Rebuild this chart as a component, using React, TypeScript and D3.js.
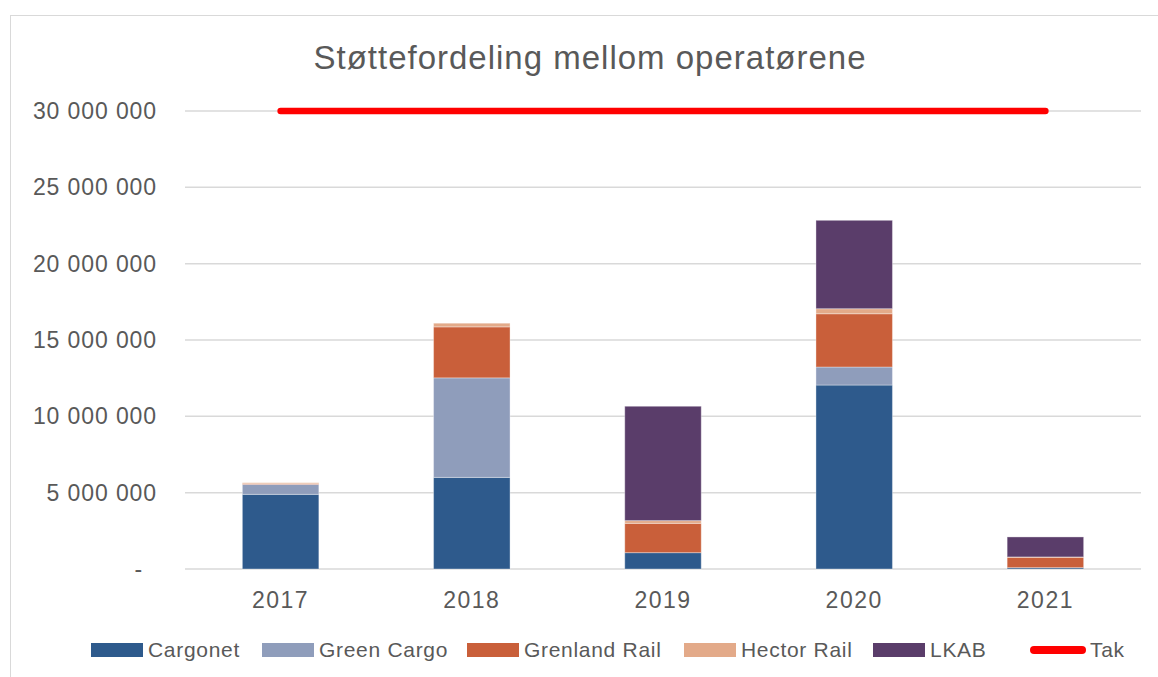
import { useEffect, useRef } from 'react'
import * as d3 from 'd3'

// Chart data (values in NOK)
const years = ['2017', '2018', '2019', '2020', '2021']
const cargonet = [4890000, 6000000, 1070000, 12050000, 90000]
const greenCargo = [650000, 6520000, 0, 1180000, 0]
const grenlandRail = [40000, 3340000, 1920000, 3490000, 680000]
const hectorRail = [70000, 240000, 180000, 330000, 20000]
const lkab = [0, 0, 7490000, 5790000, 1310000]
const tak = [30000000, 30000000, 30000000, 30000000, 30000000]
const yTicks = [0, 5000000, 10000000, 15000000, 20000000, 25000000, 30000000]

const seriesNames = ['Cargonet', 'Green Cargo', 'Grenland Rail', 'Hector Rail', 'LKAB']
const seriesValues = [cargonet, greenCargo, grenlandRail, hectorRail, lkab]
const colors = ['#2E5A8C', '#8F9DBB', '#C95F3A', '#E3AA89', '#5A3D6A']

function App() {
  const svgRef = useRef<SVGSVGElement | null>(null)

  useEffect(() => {
    if (!svgRef.current) return
    const svg = d3.select(svgRef.current)
    svg.selectAll('*').remove()

    const width = 1158
    const height = 677
    const margin = { top: 111, right: 17, bottom: 108, left: 185 }
    const chartWidth = width - margin.left - margin.right
    const chartHeight = height - margin.top - margin.bottom
    const font = '"Liberation Sans", Arial, sans-serif'

    svg.attr('width', width).attr('height', height)

    // Outer chart frame
    svg.append('rect')
      .attr('x', 10.5).attr('y', 15.5)
      .attr('width', width).attr('height', height)
      .attr('fill', '#fff')
      .attr('stroke', '#d9d9d9')

    // Title
    svg.append('text')
      .attr('x', 590).attr('y', 69)
      .attr('text-anchor', 'middle')
      .style('font-family', font)
      .style('font-size', '33px')
      .style('letter-spacing', '1px')
      .style('fill', '#595959')
      .text('Støttefordeling mellom operatørene')

    const g = svg.append('g').attr('transform', `translate(${margin.left},${margin.top})`)

    const x = d3.scaleBand().domain(years).range([0, chartWidth]).paddingInner(0.6).paddingOuter(0.3)
    const y = d3.scaleLinear().domain([0, 30000000]).range([chartHeight, 0])

    // Grid
    g.selectAll('.grid')
      .data(yTicks)
      .enter().append('line')
      .attr('x1', 0).attr('x2', chartWidth)
      .attr('y1', d => y(d)).attr('y2', d => y(d))
      .attr('stroke', '#d9d9d9')
      .attr('stroke-width', 1.5)

    // Y labels
    const fmt = (v: number) => v === 0 ? '-' : d3.format(',')(v).replace(/,/g, ' ')
    g.selectAll('.ylab')
      .data(yTicks)
      .enter().append('text')
      .attr('x', d => d === 0 ? -42 : -28)
      .attr('y', d => y(d))
      .attr('dy', '0.35em')
      .attr('text-anchor', 'end')
      .style('font-family', font)
      .style('font-size', '23px')
      .style('letter-spacing', '0.9px')
      .style('fill', '#595959')
      .text(d => fmt(d))

    // X labels
    g.selectAll('.xlab')
      .data(years)
      .enter().append('text')
      .attr('x', d => x(d)! + x.bandwidth() / 2)
      .attr('y', chartHeight + 39)
      .attr('text-anchor', 'middle')
      .style('font-family', font)
      .style('font-size', '23px')
      .style('letter-spacing', '1.5px')
      .style('fill', '#595959')
      .text(d => d)

    // Stacked bars
    const rows = years.map((yr, i) => {
      const row: any = { year: yr }
      seriesNames.forEach((s, j) => { row[s] = seriesValues[j][i] })
      return row
    })
    const stacked = d3.stack().keys(seriesNames)(rows)

    stacked.forEach((layer, li) => {
      g.selectAll(`.bar-${li}`)
        .data(layer)
        .enter().append('rect')
        .attr('x', (d: any) => x(d.data.year)!)
        .attr('width', x.bandwidth())
        .attr('y', d => y(d[1]))
        .attr('height', d => Math.max(0, y(d[0]) - y(d[1])))
        .attr('fill', colors[li])
        .attr('stroke', '#ffffff')
        .attr('stroke-opacity', 0.35)
        .attr('stroke-width', 1)
    })

    // Tak line
    const line = d3.line<number>()
      .x((_, i) => x(years[i])! + x.bandwidth() / 2)
      .y(d => y(d))
    g.append('path')
      .datum(tak)
      .attr('d', line)
      .attr('fill', 'none')
      .attr('stroke', '#FF0000')
      .attr('stroke-width', 6.5)
      .attr('stroke-linecap', 'round')

    // Legend
    const legendItems = [
      { label: 'Cargonet', x: 91 },
      { label: 'Green Cargo', x: 262 },
      { label: 'Grenland Rail', x: 467 },
      { label: 'Hector Rail', x: 684 },
      { label: 'LKAB', x: 873 },
    ]
    const ly = 650
    legendItems.forEach((item, i) => {
      svg.append('rect')
        .attr('x', item.x).attr('y', ly - 7)
        .attr('width', 52).attr('height', 14)
        .attr('fill', colors[i])
      svg.append('text')
        .attr('x', item.x + 57).attr('y', ly)
        .attr('dy', '0.35em')
        .style('font-family', font)
        .style('font-size', '21px')
        .style('letter-spacing', '0.7px')
        .style('fill', '#595959')
        .text(item.label)
    })
    svg.append('line')
      .attr('x1', 1034).attr('x2', 1082)
      .attr('y1', ly).attr('y2', ly)
      .attr('stroke', '#FF0000')
      .attr('stroke-width', 8)
      .attr('stroke-linecap', 'round')
    svg.append('text')
      .attr('x', 1090).attr('y', ly)
      .attr('dy', '0.35em')
      .style('font-family', font)
      .style('font-size', '21px')
      .style('letter-spacing', '0.7px')
      .style('fill', '#595959')
      .text('Tak')
  }, [])

  return (
    <div style={{ position: 'absolute', left: 0, top: 0 }}>
      <svg ref={svgRef} style={{ display: 'block' }}></svg>
    </div>
  )
}

export default App
